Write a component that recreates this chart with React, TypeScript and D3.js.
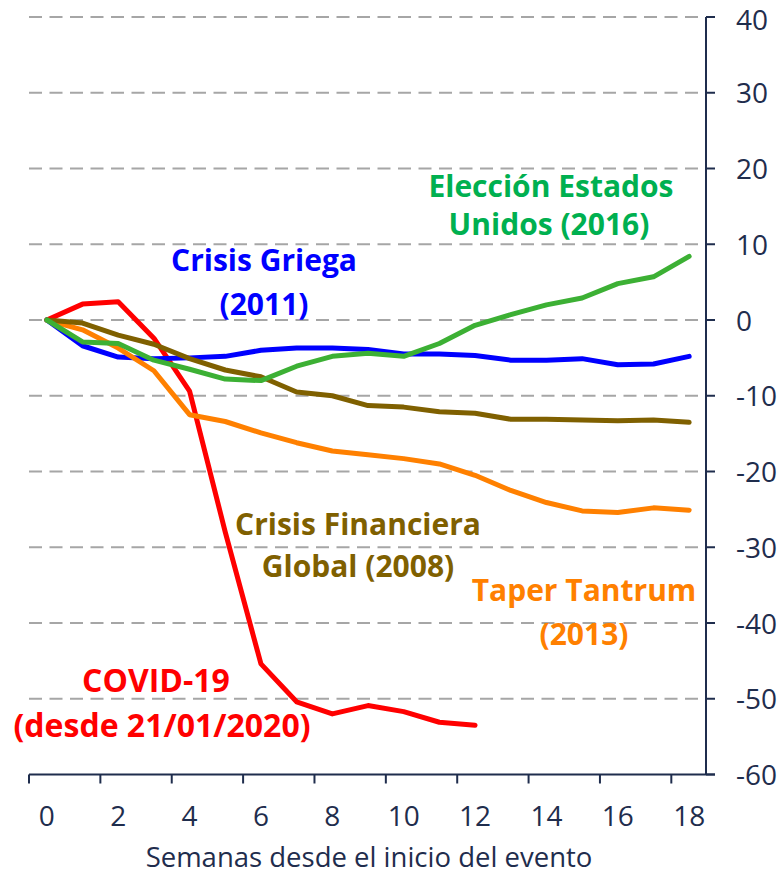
import { useEffect, useRef } from 'react';
import * as d3 from 'd3';

const W = 778;
const H = 876;

const weeks = d3.range(0, 19);
const xTickLabels = ['0', '2', '4', '6', '8', '10', '12', '14', '16', '18'];
const yTicks = [40, 30, 20, 10, 0, -10, -20, -30, -40, -50, -60];

// Variación acumulada (%) por semana desde el inicio de cada evento
const covid = [0, 2.1, 2.4, -2.4, -9.4, -28.0, -45.4, -50.4, -52.0, -50.9, -51.7, -53.1, -53.5];
const griega = [0, -3.4, -4.9, -5.1, -5.0, -4.8, -4.0, -3.7, -3.7, -3.9, -4.5, -4.5, -4.7, -5.3, -5.3, -5.1, -5.9, -5.8, -4.8];
const taper = [0, -1.3, -3.7, -6.7, -12.5, -13.4, -14.9, -16.2, -17.3, -17.8, -18.3, -19.0, -20.5, -22.5, -24.1, -25.2, -25.4, -24.8, -25.1];
const financiera = [0, -0.4, -2.0, -3.2, -5.1, -6.6, -7.5, -9.5, -10.0, -11.3, -11.5, -12.1, -12.3, -13.1, -13.1, -13.2, -13.3, -13.2, -13.5];
const eleccion = [0, -2.9, -3.1, -5.3, -6.5, -7.8, -8.0, -6.1, -4.8, -4.4, -4.8, -3.1, -0.7, 0.7, 2.0, 2.9, 4.8, 5.7, 8.4];

const series = [
  { name: 'covid', values: covid, color: '#ff0000' },
  { name: 'griega', values: griega, color: '#0000ff' },
  { name: 'taper', values: taper, color: '#ff8000' },
  { name: 'financiera', values: financiera, color: '#7f6000' },
  { name: 'eleccion', values: eleccion, color: '#3cb034' },
];

const labels = [
  { lines: ['Crisis Griega', '(2011)'], x: [264, 264], y: [271, 315], size: 30, color: '#0000ff' },
  { lines: ['Elección Estados', 'Unidos (2016)'], x: [551, 549], y: [197, 235], size: 30, color: '#00b050' },
  { lines: ['Crisis Financiera', 'Global (2008)'], x: [358, 358], y: [535, 577], size: 30, color: '#7f6000' },
  { lines: ['Taper Tantrum', '(2013)'], x: [584, 584], y: [601, 645], size: 30, color: '#ff8000' },
  { lines: ['COVID-19', '(desde 21/01/2020)'], x: [156, 162], y: [692, 737], size: 32, color: '#ff0000' },
];

const AXIS = '#1f2d4d';
const FONT = '"Open Sans", Lato, sans-serif';

export default function App() {
  const svgRef = useRef<SVGSVGElement>(null);

  useEffect(() => {
    if (!svgRef.current) return;
    const svg = d3.select(svgRef.current);
    svg.selectAll('*').remove();

    const x = d3.scaleBand<number>().domain(weeks).range([29, 707]).padding(0);
    const cx = (i: number) => x(i)! + x.bandwidth() / 2;
    const y = d3.scaleLinear().domain([-60, 40]).range([774.5, 17]);

    // ── Grid ──
    svg
      .append('g')
      .selectAll('line')
      .data(yTicks.filter((t) => t > -60))
      .enter()
      .append('line')
      .attr('x1', 29)
      .attr('x2', 700)
      .attr('y1', (d) => y(d))
      .attr('y2', (d) => y(d))
      .attr('stroke', '#a6a6a6')
      .attr('stroke-width', 2)
      .attr('stroke-dasharray', '13,7.5');

    // ── Axes ──
    const ax = svg.append('g').attr('stroke', AXIS).attr('stroke-width', 2);
    ax.append('line').attr('x1', 29).attr('x2', 715).attr('y1', y(-60)).attr('y2', y(-60));
    ax.append('line').attr('x1', 706).attr('x2', 706).attr('y1', y(40)).attr('y2', y(-60));
    ax.selectAll('line.yt')
      .data(yTicks)
      .enter()
      .append('line')
      .attr('class', 'yt')
      .attr('x1', 706)
      .attr('x2', 715)
      .attr('y1', (d) => y(d))
      .attr('y2', (d) => y(d));
    ax.selectAll('line.xt')
      .data(weeks.filter((w) => w % 2 === 0))
      .enter()
      .append('line')
      .attr('class', 'xt')
      .attr('x1', (d) => x(d)!)
      .attr('x2', (d) => x(d)!)
      .attr('y1', y(-60))
      .attr('y2', y(-60) + 9);

    // top label sits against the page edge, keep its glyph box inside
    svg
      .append('g')
      .selectAll('text')
      .data(yTicks)
      .enter()
      .append('text')
      .attr('x', 736)
      .attr('y', (d) => Math.max(y(d) + 10.5, 30))
      .attr('fill', AXIS)
      .attr('font-family', FONT)
      .attr('font-size', 28)
      .text((d) => d);

    svg
      .append('g')
      .selectAll('text')
      .data(xTickLabels)
      .enter()
      .append('text')
      .attr('x', (d) => cx(+d))
      .attr('y', 826)
      .attr('text-anchor', 'middle')
      .attr('fill', AXIS)
      .attr('font-family', FONT)
      .attr('font-size', 28)
      .text((d) => d);

    svg
      .append('text')
      .attr('x', 369)
      .attr('y', 867)
      .attr('text-anchor', 'middle')
      .attr('fill', AXIS)
      .attr('font-family', FONT)
      .attr('font-size', 27.5)
      .text('Semanas desde el inicio del evento');

    // ── Lines ──
    const line = d3
      .line<number>()
      .x((_, i) => cx(i))
      .y((d) => y(d));

    svg
      .append('g')
      .selectAll('path')
      .data(series)
      .enter()
      .append('path')
      .attr('d', (d) => line(d.values))
      .attr('fill', 'none')
      .attr('stroke', (d) => d.color)
      .attr('stroke-width', 5)
      .attr('stroke-linejoin', 'round')
      .attr('stroke-linecap', 'round');

    // ── Labels ──
    labels.forEach((l) => {
      l.lines.forEach((t, k) => {
        svg
          .append('text')
          .attr('x', l.x[k])
          .attr('y', l.y[k])
          .attr('text-anchor', 'middle')
          .attr('fill', l.color)
          .attr('font-family', FONT)
          .attr('font-weight', 700)
          .attr('font-size', l.size)
          .text(t);
      });
    });
  }, []);

  return (
    <div style={{ position: 'absolute', left: 0, top: 0 }}>
      <svg ref={svgRef} width={W} height={H} style={{ display: 'block', background: '#fff' }} />
    </div>
  );
}
